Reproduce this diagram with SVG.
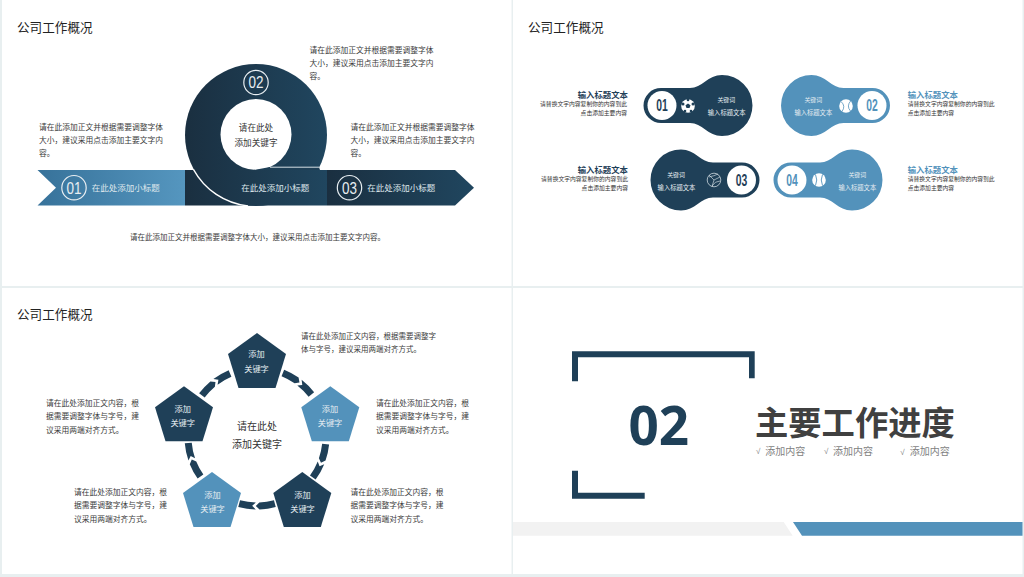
<svg xmlns="http://www.w3.org/2000/svg" width="1024" height="577" viewBox="0 0 1024 577">
<style>
text{font-family:"Noto Sans CJK SC","Noto Sans",sans-serif;fill:#333}
.h{font-size:12.6px;fill:#222}
.b{font-size:7.75px;fill:#3a3a3a}
.c{text-anchor:middle}
.e{text-anchor:end}
.w{fill:#dfe7ec}
.n{font-family:"Liberation Sans",sans-serif;fill:#e8eef2;font-size:16px}
.ring{fill:none;stroke:#e8eef2;stroke-width:1.2}
.t{font-size:8.4px;font-weight:700}
.d{font-size:5.8px;fill:#333}
.k{font-size:5.9px;fill:#e4ecf1;text-anchor:middle}
.m{font-size:6.3px;fill:#e4ecf1;text-anchor:middle}
.num{font-family:"Liberation Sans",sans-serif;font-weight:700;font-size:16px;text-anchor:middle}
.dk{fill:#1f4058}
.lt{fill:#5392bb}
.p{font-size:8.2px;fill:#e4ecf1;text-anchor:middle}
.s{font-size:10px;fill:#7f7f7f}
.v{font-family:"Liberation Sans",sans-serif;font-size:8px;fill:#7f7f7f}
</style>
<defs>
<linearGradient id="g1" x1="0" x2="1" y1="0" y2="0"><stop offset="0" stop-color="#37729a"/><stop offset="1" stop-color="#5596bf"/></linearGradient>
<linearGradient id="g2" x1="0" x2="1" y1="0" y2="0"><stop offset="0" stop-color="#1a2f40"/><stop offset="1" stop-color="#20465f"/></linearGradient>
<path id="blob" d="M0-30.5C-14-30.5-20-17.5-32-17.5H-61A17.5 17.5 0 0 0-61 17.5H-32C-20 17.5-14 30.5 0 30.5A30.5 30.5 0 0 0 0-30.5Z"/>
<polygon id="pent" points="0,0 29,21 18.5,55 -18.5,55 -29,21"/>
<path id="pair" d="M-18.76-70.03A72.5 72.5 0 0 1-2.53-72.46L1.2-68.99-2.29-65.46A65.500 65.500 0 0 0-16.95-63.27ZM1.27-72.49 4.81-68.83 1.14-65.49A65.500 65.500 0 0 1 16.95-63.27L18.76-70.03A72.5 72.5 0 0 0 1.27-72.49Z"/>
</defs>
<rect width="1024" height="577" fill="#e8eff0"/>
<rect x="2" y="0" width="509.500" height="286" fill="#fff"/>
<rect x="513" y="0" width="509.500" height="286" fill="#fff"/>
<rect x="2" y="288" width="509.500" height="286" fill="#fff"/>
<rect x="513" y="288" width="509.500" height="286" fill="#fff"/>

<g id="slide1">
<text class="h" x="17" y="31.500">公司工作概况</text>
<g id="arrow-01">
<polygon points="37.500,170 185,170 185,205.500 37.500,205.500 56,187.700" fill="url(#g1)"/>
<circle class="ring" cx="74" cy="187.700" r="12.200"/>
<text class="n c" x="74" y="193.500" textLength="15" lengthAdjust="spacingAndGlyphs">01</text>
<text class="w" x="91.700" y="191" font-size="8.500">在此处添加小标题</text>
</g>
<g id="arrow-03">
<polygon points="327,170 455,170 474,187.700 455,205.500 327,205.500" fill="url(#g2)"/>
<circle class="ring" cx="349.500" cy="187.700" r="12.200"/>
<text class="n c" x="349.500" y="193.500" textLength="15" lengthAdjust="spacingAndGlyphs">03</text>
<text class="w" x="367.300" y="191" font-size="8.500">在此处添加小标题</text>
</g>
<g id="ring-02">
<circle cx="256" cy="135" r="71" fill="url(#g2)"/>
<circle cx="256" cy="134.500" r="35.500" fill="#fff"/>
<rect x="185" y="170" width="142" height="35.500" fill="url(#g2)"/>
<path d="M251 170.500 270 167H319L320 170H251Z" fill="#1e3f56"/>
<path d="M270 167.200H319" stroke="#d5dfe5" stroke-width="1" fill="none"/>
<path d="M193.500 169.500A71 71 0 0 0 248 206" stroke="#fff" stroke-width="1.500" fill="none"/>
<circle class="ring" cx="256" cy="82.500" r="12.200"/>
<text class="n c" x="256" y="88.300" textLength="15" lengthAdjust="spacingAndGlyphs">02</text>
<text class="c" x="256" y="131" font-size="8.600">请在此处</text>
<text class="c" x="256" y="146" font-size="8.600">添加关键字</text>
<text class="w" x="241.300" y="191" font-size="8.500">在此处添加小标题</text>
</g>
<text class="b"><tspan x="309.500" y="52.500">请在此添加正文并根据需要调整字体</tspan><tspan x="309.500" y="66">大小，建议采用点击添加主要文字内</tspan><tspan x="309.500" y="79">容。</tspan></text>
<text class="b"><tspan x="39" y="129.500">请在此添加正文并根据需要调整字体</tspan><tspan x="39" y="143">大小，建议采用点击添加主要文字内</tspan><tspan x="39" y="156">容。</tspan></text>
<text class="b"><tspan x="350.500" y="129.500">请在此添加正文并根据需要调整字体</tspan><tspan x="350.500" y="143">大小，建议采用点击添加主要文字内</tspan><tspan x="350.500" y="156">容。</tspan></text>
<text class="b" x="130" y="239.500" style="font-size:7.500px">请在此添加正文并根据需要调整字体大小，建议采用点击添加主要文字内容。</text>
</g>

<g id="slide2">
<text class="h" x="528" y="31.500">公司工作概况</text>
<g id="blob-01">
<use href="#blob" x="722" y="105.500" class="dk"/>
<circle cx="662" cy="105.500" r="14.500" fill="#fff"/>
<text class="num dk" x="662" y="111.200" textLength="11.500" lengthAdjust="spacingAndGlyphs">01</text>
<circle cx="688" cy="106" r="6.800" fill="#fff"/>
<g class="dk"><polygon points="688,103.500 690.500,105.300 689.500,108 686.500,108 685.500,105.300"/><circle cx="683" cy="104" r="1.500"/><circle cx="693" cy="104" r="1.500"/><circle cx="685" cy="111" r="1.300"/><circle cx="691" cy="111" r="1.300"/><circle cx="688" cy="100" r="1.300"/></g>
<text class="k" x="726.300" y="101.800">关键词</text>
<text class="m" x="726.700" y="115">输入标题文本</text>
</g>
<g id="blob-02">
<use href="#blob" transform="translate(811.500 105.500) scale(-1 1)" class="lt"/>
<circle cx="872" cy="105.500" r="14.500" fill="#fff"/>
<text class="num lt" x="872" y="111.200" textLength="11.500" lengthAdjust="spacingAndGlyphs">02</text>
<circle cx="846" cy="106" r="6.800" fill="#fff"/>
<path d="M841 101.500Q846 106 842 111.500M851 100.500Q846 106 850.500 111" fill="none" stroke="#5392bb" stroke-width=".8"/>
<text class="k" x="813.300" y="101.800">关键词</text>
<text class="m" x="813.300" y="115">输入标题文本</text>
</g>
<g id="blob-03">
<use href="#blob" transform="translate(681 180) scale(-1 1)" class="dk"/>
<circle cx="741.500" cy="180" r="14.500" fill="#fff"/>
<text class="num dk" x="741.500" y="185.700" textLength="11.500" lengthAdjust="spacingAndGlyphs">03</text>
<circle cx="714" cy="180" r="6.800" fill="none" stroke="#e4ecf1" stroke-width=".7"/>
<path d="M714 180L709 175M714 180L720 177M714 180L712 186.500M709 177Q714 176 718 174M720 181Q715 181 712 186" fill="none" stroke="#e4ecf1" stroke-width=".6"/>
<text class="k" x="676" y="176.500">关键词</text>
<text class="m" x="676.500" y="189.500">输入标题文本</text>
</g>
<g id="blob-04">
<use href="#blob" x="852" y="180" class="lt"/>
<circle cx="792" cy="180" r="14.500" fill="#fff"/>
<text class="num lt" x="792" y="185.700" textLength="11.500" lengthAdjust="spacingAndGlyphs">04</text>
<circle cx="819" cy="180" r="6.800" fill="#fff"/>
<path d="M815.500 174.500Q818 180 815.500 185.500M822.500 174.500Q820 180 822.500 185.500" fill="none" stroke="#5392bb" stroke-width=".9"/>
<text class="k" x="857.300" y="176.500">关键词</text>
<text class="m" x="857.300" y="189.500">输入标题文本</text>
</g>
<text class="t dk e" x="628" y="98">输入标题文本</text>
<text class="d e"><tspan x="627" y="106.400">请替换文字内容复制你的内容到此</tspan><tspan x="627" y="115.400">点击添加主要内容</tspan></text>
<text class="t dk e" x="628" y="172.700">输入标题文本</text>
<text class="d e"><tspan x="628" y="181.100">请替换文字内容复制你的内容到此</tspan><tspan x="628" y="189.800">点击添加主要内容</tspan></text>
<text class="t lt" x="907.700" y="98">输入标题文本</text>
<text class="d"><tspan x="907.700" y="106.400">请替换文字内容复制你的内容到此</tspan><tspan x="907.700" y="115.400">点击添加主要内容</tspan></text>
<text class="t lt" x="907.700" y="172.700">输入标题文本</text>
<text class="d"><tspan x="907.700" y="181.100">请替换文字内容复制你的内容到此</tspan><tspan x="907.700" y="189.800">点击添加主要内容</tspan></text>
</g>

<g id="slide3">
<text class="h" x="17" y="318.500">公司工作概况</text>
<g id="connectors" class="dk">
<use href="#pair" transform="translate(257 437) rotate(37)"/>
<use href="#pair" transform="translate(257 437) rotate(111)"/>
<use href="#pair" transform="translate(257 437) rotate(180)"/>
<use href="#pair" transform="translate(257 437) rotate(250)"/>
<use href="#pair" transform="translate(257 437) rotate(322)"/>
</g>
<g id="pent-top"><use href="#pent" x="257" y="333" class="dk"/><text class="p" x="256.500" y="357">添加</text><text class="p" x="256.500" y="371.700">关键字</text></g>
<g id="pent-left"><use href="#pent" x="184" y="386.300" class="dk"/><text class="p" x="182.700" y="411.700">添加</text><text class="p" x="182.700" y="426.300">关键字</text></g>
<g id="pent-right"><use href="#pent" x="330.300" y="386.300" class="lt"/><text class="p" x="330" y="411.700">添加</text><text class="p" x="330" y="426.300">关键字</text></g>
<g id="pent-bl"><use href="#pent" x="212" y="472" class="lt"/><text class="p" x="212.500" y="497.700">添加</text><text class="p" x="212.500" y="512">关键字</text></g>
<g id="pent-br"><use href="#pent" x="302.300" y="472" class="dk"/><text class="p" x="302.500" y="497.700">添加</text><text class="p" x="302.500" y="512">关键字</text></g>
<text class="c" x="257" y="430" font-size="10">请在此处</text>
<text class="c" x="257" y="447.700" font-size="10">添加关键字</text>
<text class="b" style="font-size:7.500px"><tspan x="301" y="338.500">请在此处添加正文内容，根据需要调整字</tspan><tspan x="301" y="351.800">体与字号，建议采用两端对齐方式。</tspan></text>
<text class="b"><tspan x="46" y="405.800">请在此处添加正文内容，根</tspan><tspan x="46" y="419.100">据需要调整字体与字号，建</tspan><tspan x="46" y="432.500">议采用两端对齐方式。</tspan></text>
<text class="b"><tspan x="376" y="405.800">请在此处添加正文内容，根</tspan><tspan x="376" y="419.100">据需要调整字体与字号，建</tspan><tspan x="376" y="432.500">议采用两端对齐方式。</tspan></text>
<text class="b"><tspan x="74" y="494.800">请在此处添加正文内容，根</tspan><tspan x="74" y="508.100">据需要调整字体与字号，建</tspan><tspan x="74" y="521.500">议采用两端对齐方式。</tspan></text>
<text class="b"><tspan x="350.500" y="494.800">请在此处添加正文内容，根</tspan><tspan x="350.500" y="508.100">据需要调整字体与字号，建</tspan><tspan x="350.500" y="521.500">议采用两端对齐方式。</tspan></text>
</g>

<g id="slide4">
<path class="dk" d="M572 351.300H754.700V378.300H749V357.200H578V381.300H572ZM572 470.700H578V492.800H644.700V498.700H572Z"/>
<text class="dk" x="658.700" y="444.700" text-anchor="middle" style="font-family:'Noto Sans',sans-serif;font-weight:700;font-size:53px">02</text>
<text x="755" y="434.500" style="font-size:33.300px;font-weight:700;fill:#404040">主要工作进度</text>
<text class="v" x="756" y="454.300">√</text><text class="s" x="765.300" y="454.800">添加内容</text>
<text class="v" x="824" y="454.300">√</text><text class="s" x="833" y="454.800">添加内容</text>
<text class="v" x="900.300" y="454.600">√</text><text class="s" x="909.700" y="455">添加内容</text>
<polygon points="513,522 783.700,522 792.700,535.700 513,535.700" fill="#f2f2f2"/>
<polygon points="793,522 1022.500,522 1022.500,535.700 802,535.700" fill="#5392bb"/>
</g>
</svg>
